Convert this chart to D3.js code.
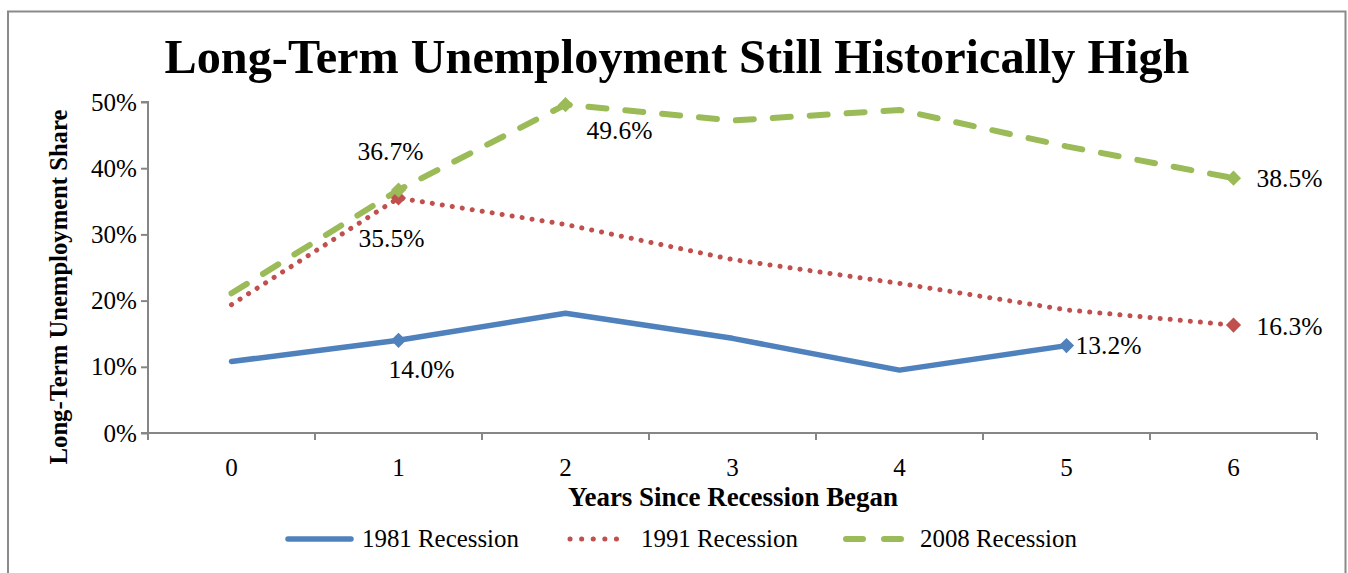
<!DOCTYPE html>
<html><head><meta charset="utf-8">
<script src="https://cdn.jsdelivr.net/npm/d3@7"></script>
<style>
html,body{margin:0;padding:0;background:#fff;}
text{font-family:"Liberation Serif","Times New Roman",serif;fill:#000;}
</style></head>
<body>
<svg id="c" width="1348" height="573"></svg>
<script>
const years = [0,1,2,3,4,5,6];
const yTicks = [0,0.1,0.2,0.3,0.4,0.5];
const s1981 = [0.108,0.140,0.181,0.143,0.095,0.132,null];
const s1991 = [0.194,0.355,0.315,0.262,0.226,0.186,0.163];
const s2008 = [0.211,0.367,0.496,0.472,0.488,0.433,0.385];
const seriesNames = ["1981 Recession","1991 Recession","2008 Recession"];
const colors = ["#4F81BD","#C0504D","#9BBB59"];
// labelled points: [series index, x index, dx, dy, anchor]
const labels = [
  [0,1,23,38,"middle"],
  [0,5,9,8,"start"],
  [1,1,-7,49,"middle"],
  [1,6,23,10,"start"],
  [2,1,-8,-30,"middle"],
  [2,2,54,34,"middle"],
  [2,6,23,9,"start"]
];
const allSeries = [s1981,s1991,s2008];

const svg = d3.select("#c");
svg.append("path").attr("d","M8,573 V11.5 H1345.5 V573").attr("fill","none").attr("stroke","#8a8a8a").attr("stroke-width",2);

const pL=148, pR=1317, pT=102, pB=433;
const x = d3.scaleBand().domain(years).range([pL,pR]);
const y = d3.scaleLinear().domain([0,0.5]).range([pB,pT]);

function fitW(sel,w){const n=sel.node();const cur=n.getComputedTextLength();const fs=+sel.attr("font-size");sel.attr("font-size",fs*w/cur);return fs*w/cur;}
const title = svg.append("text").attr("x",677).attr("y",73).attr("text-anchor","middle")
  .attr("font-weight","bold").attr("font-size",46).text("Long-Term Unemployment Still Historically High");
fitW(title,1025);

const probe = svg.append("text").attr("font-size",20).text("50%");
const tickFs = fitW(probe,46);
probe.attr("font-size",20).text("36.7%");
const labFs = fitW(probe,66);
probe.attr("font-size",20).text("1981 Recession");
const legFs = fitW(probe,157);
probe.remove();

const yAxis = d3.axisLeft(y).tickValues(yTicks).tickFormat(d3.format(".0%")).tickSize(7).tickPadding(4);
const gy = svg.append("g").attr("transform",`translate(${pL},0)`).call(yAxis);
const xAxis = d3.axisBottom(x).tickSize(0).tickPadding(25);
const gx = svg.append("g").attr("transform",`translate(0,${pB})`).call(xAxis);
[gx,gy].forEach(g=>{
  g.attr("font-family",null);
  g.selectAll(".domain").attr("stroke","#868686").attr("stroke-width",2);
  g.selectAll("line").attr("stroke","#868686").attr("stroke-width",2);
  g.selectAll("text").attr("font-size",tickFs).attr("fill","#222");
});
gy.select(".domain").attr("d",`M-7,${pT}H0V${pB}H-7`);
gx.selectAll(".btick").data(years.concat([7])).join("line").attr("class","btick")
  .attr("x1",(d,i)=> i<7 ? x(d) : pR).attr("x2",(d,i)=> i<7 ? x(d) : pR)
  .attr("y1",0).attr("y2",7).attr("stroke","#868686").attr("stroke-width",2);
gx.select(".domain").attr("d",`M${pL-7},0H${pR}`);

const yt = svg.append("text").attr("transform","translate(67,287) rotate(-90)").attr("text-anchor","middle")
  .attr("font-weight","bold").attr("font-size",20).text("Long-Term Unemployment Share");
fitW(yt,355);
const xt = svg.append("text").attr("x",733).attr("y",506).attr("text-anchor","middle")
  .attr("font-weight","bold").attr("font-size",21).text("Years Since Recession Began");
fitW(xt,330);

const styles = [
  {w:5.5,dash:null},
  {w:5,dash:"0.1,10"},
  {w:6,dash:"18,19"}
];
const line = d3.line().defined(d=>d.v!==null).x(d=>x(d.k)+x.bandwidth()/2).y(d=>y(d.v));
allSeries.forEach((s,i)=>{
  const data = years.map((k,j)=>({k,v:s[j]}));
  svg.append("path").datum(data).attr("d",line).attr("fill","none")
    .attr("stroke",colors[i]).attr("stroke-width",styles[i].w)
    .attr("stroke-dasharray",styles[i].dash).attr("stroke-linecap","round").attr("stroke-linejoin","round");
});
labels.forEach(([si,xi,dx,dy,anchor])=>{
  const cx = x(years[xi])+x.bandwidth()/2, cy = y(allSeries[si][xi]);
  svg.append("path").attr("d",d3.symbol().type(d3.symbolSquare).size(115)()).attr("transform",`translate(${cx},${cy}) rotate(45)`).attr("fill",colors[si]);
  svg.append("text").attr("x",cx+dx).attr("y",cy+dy).attr("text-anchor",anchor).attr("font-size",labFs).attr("fill","#222")
    .text(d3.format(".1%")(allSeries[si][xi]));
});

const legX = [285,567,843], legTX=[362,641,920], legY=539;
seriesNames.forEach((n,i)=>{
  svg.append("line").attr("x1",legX[i]+3).attr("x2",legX[i]+ (i===0?66:58)).attr("y1",legY).attr("y2",legY)
    .attr("stroke",colors[i]).attr("stroke-width",styles[i].w)
    .attr("stroke-dasharray",i===1?"0.1,11.5":(i===2?"17,21":null)).attr("stroke-linecap","round");
  svg.append("text").attr("x",legTX[i]).attr("y",legY+8).attr("font-size",legFs).attr("fill","#222").text(n);
});
</script>
</body></html>
